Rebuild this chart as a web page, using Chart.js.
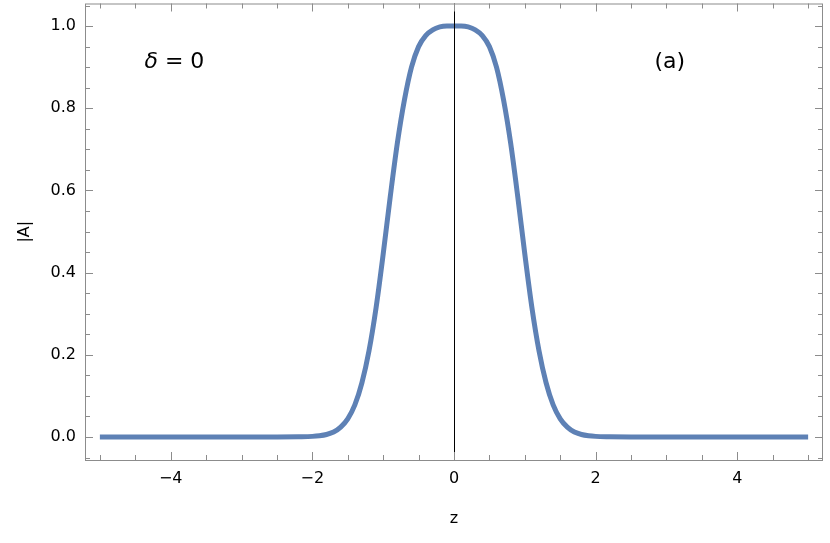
<!DOCTYPE html>
<html>
<head>
<meta charset="utf-8">
<script src="https://cdn.jsdelivr.net/npm/chart.js@4.4.1/dist/chart.umd.min.js"></script>
<style>
  html, body { margin: 0; padding: 0; background: #fff; }
  #wrap { width: 830px; height: 543px; position: relative; }
</style>
</head>
<body>
<div id="wrap"><canvas id="chart"></canvas></div>
<script>
// |A| profile for delta = 0
const zValues = [-5, -4, -3, -2.5, -2.2, -2.0, -1.9, -1.8, -1.7, -1.6, -1.5, -1.4, -1.3, -1.2, -1.1,
    -1.0, -0.9, -0.8, -0.7, -0.6, -0.5, -0.4, -0.3, -0.2, -0.1, 0,
    0.1, 0.2, 0.3, 0.4, 0.5, 0.6, 0.7, 0.8, 0.9, 1.0,
    1.1, 1.2, 1.3, 1.4, 1.5, 1.6, 1.7, 1.8, 1.9, 2.0, 2.2, 2.5, 3, 4, 5];
const absA = [0, 0, 0, 0.0002, 0.0007, 0.0015, 0.003, 0.006, 0.012, 0.024, 0.044, 0.078, 0.132, 0.21, 0.315,
    0.445, 0.585, 0.715, 0.82, 0.9, 0.95, 0.977, 0.991, 0.998, 1.0, 1.0,
    1.0, 0.998, 0.991, 0.977, 0.95, 0.9, 0.82, 0.715, 0.585, 0.445,
    0.315, 0.21, 0.132, 0.078, 0.044, 0.024, 0.012, 0.006, 0.003, 0.0015, 0.0007, 0.0002, 0, 0, 0];
const xTicks = [-4, -2, 0, 2, 4];
const yTicks = [0, 0.2, 0.4, 0.6, 0.8, 1.0];

const FONT = "'DejaVu Sans', 'Liberation Sans', sans-serif";
const FRAME = "#8c8c8c";

// frame, inward ticks on all four sides, zero line, labels
const framePlugin = {
    id: "frame",
    afterDatasetsDraw(chart) {
        const { ctx, chartArea: a, scales: { x, y } } = chart;
        ctx.save();
        // vertical line at z = 0
        ctx.strokeStyle = "#000";
        ctx.lineWidth = 1;
        const x0 = Math.round(x.getPixelForValue(0)) + 0.5;
        ctx.beginPath();
        ctx.moveTo(x0, a.top);
        ctx.lineTo(x0, a.bottom);
        ctx.stroke();

        ctx.strokeStyle = FRAME;
        ctx.strokeRect(a.left + 0.5, a.top + 0.5, a.right - a.left - 1, a.bottom - a.top);
        ctx.beginPath();
        for (let i = -10; i <= 10; i++) {
            const v = i * 0.5;
            const len = i % 4 === 0 ? 8 : 5;
            const px = Math.round(x.getPixelForValue(v)) + 0.5;
            ctx.moveTo(px, a.bottom);
            ctx.lineTo(px, a.bottom - len);
            ctx.moveTo(px, a.top);
            ctx.lineTo(px, a.top + len);
        }
        for (let i = -1; i <= 21; i++) {
            const v = i * 0.05;
            const len = i % 4 === 0 ? 8 : 5;
            const py = Math.round(y.getPixelForValue(v)) + 0.5;
            ctx.moveTo(a.left, py);
            ctx.lineTo(a.left + len, py);
            ctx.moveTo(a.right, py);
            ctx.lineTo(a.right - len, py);
        }
        ctx.stroke();

        // annotations
        ctx.fillStyle = "#000";
        ctx.textBaseline = "alphabetic";
        ctx.textAlign = "left";
        const ly = y.getPixelForValue(0.898);
        let lx = x.getPixelForValue(-4.37);
        ctx.font = "oblique 22px " + FONT;
        ctx.fillText("\u03b4", lx, ly);
        lx += ctx.measureText("\u03b4").width;
        ctx.font = "22px " + FONT;
        ctx.fillText(" = 0", lx, ly);
        ctx.fillText("(a)", x.getPixelForValue(2.83), ly);
        ctx.restore();
    },
};

const points = zValues.map((z, i) => ({ x: z, y: absA[i] }));

new Chart(document.getElementById("chart"), {
    type: "scatter",
    data: {
        datasets: [
            {
                data: points,
                showLine: true,
                borderColor: "#5e81b5",
                borderWidth: 5,
                pointRadius: 0,
                cubicInterpolationMode: "monotone",
                fill: false,
            },
        ],
    },
    options: {
        responsive: true,
        maintainAspectRatio: false,
        animation: false,
        layout: { padding: { top: 3.5, right: 7, left: 0, bottom: 0 } },
        plugins: { legend: { display: false }, tooltip: { enabled: false } },
        scales: {
            x: {
                type: "linear",
                min: -5.21,
                max: 5.21,
                afterFit: (s) => {
                    s.height = 83;
                    s.paddingLeft = 0;
                    s.paddingRight = 0;
                },
                afterBuildTicks: (s) => { s.ticks = xTicks.map((v) => ({ value: v })); },
                grid: { display: false, drawTicks: false, tickLength: 0 },
                border: { display: false },
                ticks: {
                    padding: 9,
                    color: "#000",
                    font: { family: FONT, size: 16 },
                    callback: (v) => String(v).replace("-", "\u2212"),
                },
                title: {
                    display: true,
                    text: "z",
                    color: "#000",
                    font: { family: FONT, size: 16 },
                    padding: { top: 0, bottom: 15 },
                },
            },
            y: {
                type: "linear",
                min: -0.056,
                max: 1.055,
                afterFit: (s) => {
                    s.width = 85;
                    s.paddingTop = 0;
                    s.paddingBottom = 0;
                },
                afterBuildTicks: (s) => { s.ticks = yTicks.map((v) => ({ value: v })); },
                grid: { display: false, drawTicks: false, tickLength: 0 },
                border: { display: false },
                ticks: {
                    padding: 9,
                    color: "#000",
                    font: { family: FONT, size: 16 },
                    callback: (v) => Number(v).toFixed(1),
                },
                title: {
                    display: true,
                    text: "|A|",
                    color: "#000",
                    font: { family: FONT, size: 16 },
                    padding: { top: 15, bottom: 0 },
                },
            },
        },
    },
    plugins: [framePlugin],
});
</script>
</body>
</html>
